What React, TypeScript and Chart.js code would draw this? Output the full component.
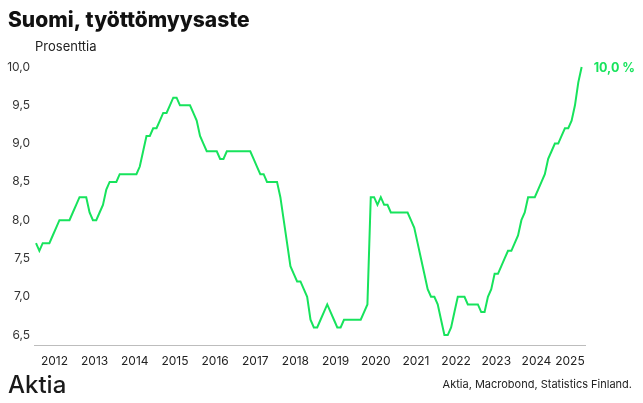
import React, { useEffect, useRef } from "react";
import { Chart, registerables } from "chart.js";

Chart.register(...registerables);

// Monthly unemployment rate (trend), Jan 2012 – Aug 2025, %
const years = ["2012", "2013", "2014", "2015", "2016", "2017", "2018", "2019", "2020", "2021", "2022", "2023", "2024", "2025"];
const v2012 = [7.7, 7.6, 7.7, 7.7, 7.7, 7.8, 7.9, 8.0, 8.0, 8.0, 8.0, 8.1];
const v2013 = [8.2, 8.3, 8.3, 8.3, 8.1, 8.0, 8.0, 8.1, 8.2, 8.4, 8.5, 8.5];
const v2014 = [8.5, 8.6, 8.6, 8.6, 8.6, 8.6, 8.6, 8.7, 8.9, 9.1, 9.1, 9.2];
const v2015 = [9.2, 9.3, 9.4, 9.4, 9.5, 9.6, 9.6, 9.5, 9.5, 9.5, 9.5, 9.4];
const v2016 = [9.3, 9.1, 9.0, 8.9, 8.9, 8.9, 8.9, 8.8, 8.8, 8.9, 8.9, 8.9];
const v2017 = [8.9, 8.9, 8.9, 8.9, 8.9, 8.8, 8.7, 8.6, 8.6, 8.5, 8.5, 8.5];
const v2018 = [8.5, 8.3, 8.0, 7.7, 7.4, 7.3, 7.2, 7.2, 7.1, 7.0, 6.7, 6.6];
const v2019 = [6.6, 6.7, 6.8, 6.9, 6.8, 6.7, 6.6, 6.6, 6.7, 6.7, 6.7, 6.7];
const v2020 = [6.7, 6.7, 6.8, 6.9, 8.3, 8.3, 8.2, 8.3, 8.2, 8.2, 8.1, 8.1];
const v2021 = [8.1, 8.1, 8.1, 8.1, 8.0, 7.9, 7.7, 7.5, 7.3, 7.1, 7.0, 7.0];
const v2022 = [6.9, 6.7, 6.5, 6.5, 6.6, 6.8, 7.0, 7.0, 7.0, 6.9, 6.9, 6.9];
const v2023 = [6.9, 6.8, 6.8, 7.0, 7.1, 7.3, 7.3, 7.4, 7.5, 7.6, 7.6, 7.7];
const v2024 = [7.8, 8.0, 8.1, 8.3, 8.3, 8.3, 8.4, 8.5, 8.6, 8.8, 8.9, 9.0];
const v2025 = [9.0, 9.1, 9.2, 9.2, 9.3, 9.5, 9.8, 10.0];
const values = [
  ...v2012, ...v2013, ...v2014, ...v2015, ...v2016, ...v2017, ...v2018,
  ...v2019, ...v2020, ...v2021, ...v2022, ...v2023, ...v2024, ...v2025,
];
const yTicks = [6.5, 7.0, 7.5, 8.0, 8.5, 9.0, 9.5, 10.0];

const title = "Suomi, työttömyysaste";
const unitLabel = "Prosenttia";
const sourceText = "Aktia, Macrobond, Statistics Finland.";
const logoText = "Aktia";
const endLabel = "10,0 %";

const GREEN = "#17e35c";
const TEXT = "#222222";
const FONT = "Inter, 'Open Sans', sans-serif";

export default function App() {
  const ref = useRef<HTMLCanvasElement | null>(null);

  useEffect(() => {
    if (!ref.current) return;
    const data = values.map((v, i) => ({ x: i, y: v }));
    const yearTickPos = years.map((_, k) => {
      const start = k * 12;
      const end = Math.min(start + 11, values.length - 1);
      return (start + end) / 2;
    });

    const textPlugin = {
      id: "texts",
      afterDraw(chart: any) {
        const ctx = chart.ctx;
        ctx.save();
        ctx.textBaseline = "alphabetic";
        ctx.fillStyle = "#111111";
        ctx.textAlign = "left";
        ctx.font = `800 21px ${FONT}`;
        ctx.fillText(title, 8, 27);
        ctx.fillStyle = TEXT;
        ctx.font = `13px ${FONT}`;
        ctx.fillText(unitLabel, 35, 51);
        ctx.fillStyle = "#1a1a1a";
        ctx.font = `500 24px ${FONT}`;
        ctx.fillText(logoText, 8, 393);
        ctx.fillStyle = TEXT;
        ctx.font = `11px ${FONT}`;
        ctx.textAlign = "right";
        ctx.fillText(sourceText, 632, 388);
        // end label at last point
        const meta = chart.getDatasetMeta(0);
        const last = meta.data[meta.data.length - 1];
        if (last) {
          ctx.textAlign = "left";
          ctx.textBaseline = "middle";
          ctx.fillStyle = GREEN;
          ctx.font = `bold 12.5px ${FONT}`;
          ctx.fillText(endLabel, last.x + 12, last.y + 1);
        }
        ctx.restore();
      },
    };

    const chart = new Chart(ref.current, {
      type: "line",
      data: {
        datasets: [
          {
            data,
            borderColor: GREEN,
            borderWidth: 2,
            pointRadius: 0,
            tension: 0,
            clip: false as any,
          },
        ],
      },
      options: {
        animation: false,
        responsive: false,
        maintainAspectRatio: false,
        layout: { padding: { top: 67, right: 58, left: 0, bottom: 0 } },
        plugins: { legend: { display: false }, tooltip: { enabled: false } },
        scales: {
          x: {
            type: "linear",
            min: -0.6,
            max: 164,
            grid: { display: false, drawTicks: false },
            border: { display: true, color: "#bdbdbd", width: 1 },
            afterBuildTicks: (s: any) => {
              s.ticks = yearTickPos.map((v) => ({ value: v }));
            },
            afterFit: (s: any) => {
              s.height = 58;
            },
            ticks: {
              callback: (_v: any, i: number) => years[i],
              font: { family: FONT, size: 12 },
              color: TEXT,
              padding: 9,
              maxRotation: 0,
              autoSkip: false,
            },
          },
          y: {
            min: 6.37,
            max: 10.0,
            grid: { display: false, drawTicks: false },
            border: { display: false },
            afterBuildTicks: (s: any) => {
              s.ticks = yTicks.map((v) => ({ value: v }));
            },
            afterFit: (s: any) => {
              s.width = 34;
            },
            ticks: {
              callback: (v: any) => Number(v).toFixed(1).replace(".", ","),
              font: { family: FONT, size: 12 },
              color: "#333333",
              padding: 4,
            },
          },
        },
      },
      plugins: [textPlugin],
    } as any);

    return () => chart.destroy();
  }, []);

  return (
    <div style={{ position: "fixed", left: 0, top: 0, width: 643, height: 403, background: "#ffffff" }}>
      <canvas ref={ref} width={643} height={403} style={{ display: "block", width: 643, height: 403 }} />
    </div>
  );
}
